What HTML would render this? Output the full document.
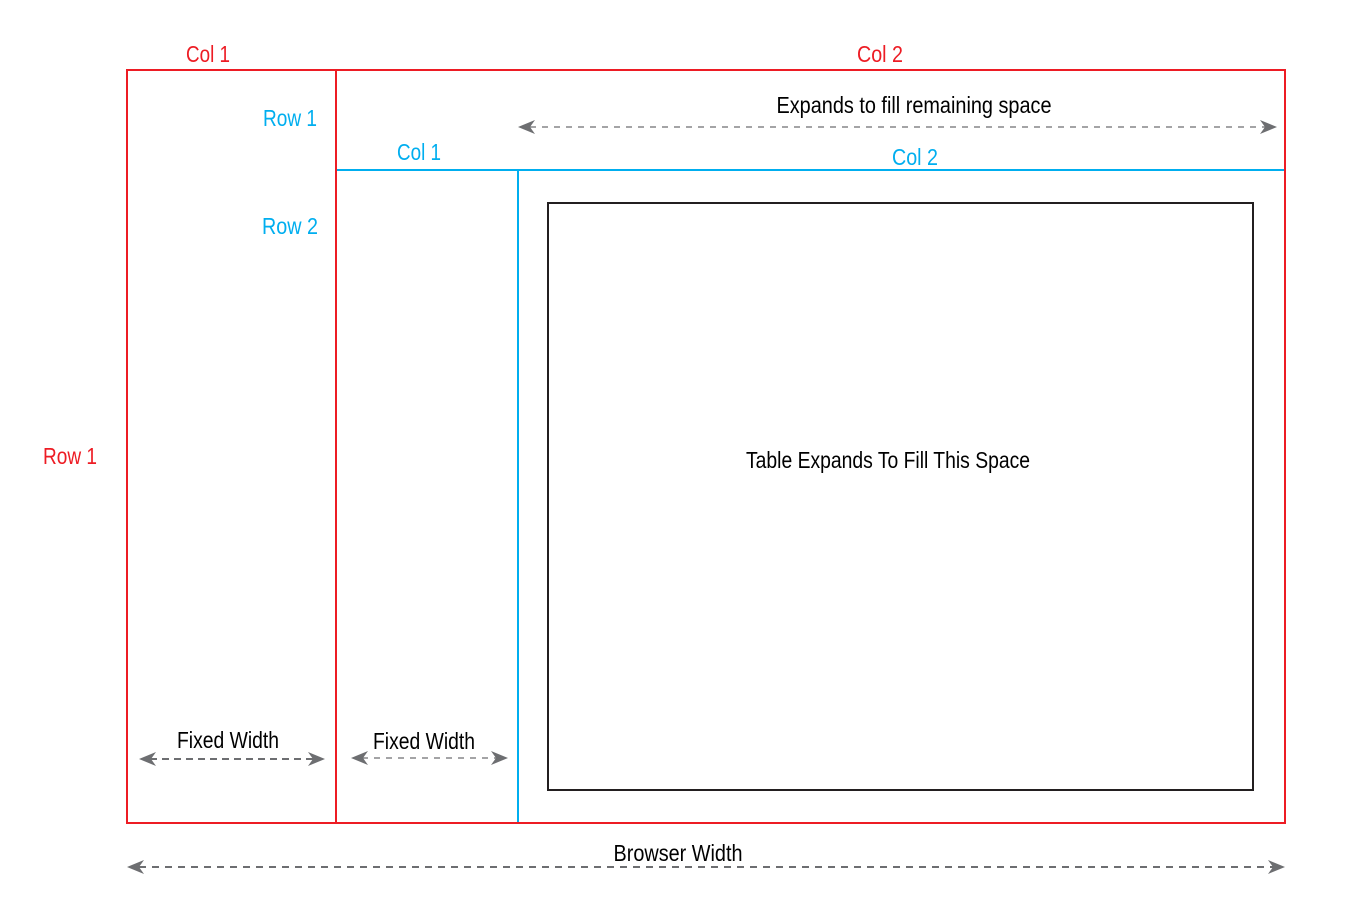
<!DOCTYPE html>
<html><head><meta charset="utf-8"><style>html,body{margin:0;padding:0;background:#fff}svg{display:block}text{font-family:"Liberation Sans Narrow","Liberation Sans",sans-serif;font-size:23px}</style></head>
<body>
<svg width="1370" height="910" viewBox="0 0 1370 910" xmlns="http://www.w3.org/2000/svg">
<defs>
<g id="ah"><path d="M0,0 L17,-7 L12,0 L17,7 Z" fill="#6d6e71"/></g>
</defs>
<rect x="127" y="70" width="1158" height="753" fill="none" stroke="#ed1c24" stroke-width="2"/>
<line x1="336" y1="70" x2="336" y2="823" stroke="#ed1c24" stroke-width="2"/>
<line x1="337" y1="170" x2="1284" y2="170" stroke="#00aeef" stroke-width="2"/>
<line x1="518" y1="171" x2="518" y2="822" stroke="#00aeef" stroke-width="2"/>
<rect x="548" y="203" width="705" height="587" fill="none" stroke="#231f20" stroke-width="2"/>

<g fill="#ed1c24" text-anchor="middle">
<text x="208" y="62" textLength="44" lengthAdjust="spacingAndGlyphs">Col 1</text>
<text x="880" y="62" textLength="46" lengthAdjust="spacingAndGlyphs">Col 2</text>
<text x="70" y="464" textLength="54" lengthAdjust="spacingAndGlyphs">Row 1</text>
</g>
<g fill="#00aeef" text-anchor="middle">
<text x="290" y="126" textLength="54" lengthAdjust="spacingAndGlyphs">Row 1</text>
<text x="290" y="234" textLength="56" lengthAdjust="spacingAndGlyphs">Row 2</text>
<text x="419" y="160" textLength="44" lengthAdjust="spacingAndGlyphs">Col 1</text>
<text x="915" y="165" textLength="46" lengthAdjust="spacingAndGlyphs">Col 2</text>
</g>
<g fill="#000" text-anchor="middle">
<text x="914" y="113" textLength="275" lengthAdjust="spacingAndGlyphs">Expands to fill remaining space</text>
<text x="888" y="468" textLength="284" lengthAdjust="spacingAndGlyphs">Table Expands To Fill This Space</text>
<text x="228" y="748" textLength="102" lengthAdjust="spacingAndGlyphs">Fixed Width</text>
<text x="424" y="749" textLength="102" lengthAdjust="spacingAndGlyphs">Fixed Width</text>
<text x="678" y="861" textLength="129" lengthAdjust="spacingAndGlyphs">Browser Width</text>
</g>

<g stroke="#6d6e71" fill="none">
<line x1="530" y1="127" x2="1266" y2="127" stroke-width="1.3" stroke-dasharray="6,6"/>
<line x1="150" y1="759" x2="314" y2="759" stroke-width="2" stroke-dasharray="7,5"/>
<line x1="362" y1="758" x2="497" y2="758" stroke-width="1.2" stroke-dasharray="6,6"/>
<line x1="139" y1="867" x2="1274" y2="867" stroke-width="2" stroke-dasharray="7,6"/>
</g>
<use href="#ah" transform="translate(518,127)"/>
<use href="#ah" transform="translate(1277,127) scale(-1,1)"/>
<use href="#ah" transform="translate(139,759)"/>
<use href="#ah" transform="translate(325,759) scale(-1,1)"/>
<use href="#ah" transform="translate(351,758)"/>
<use href="#ah" transform="translate(508,758) scale(-1,1)"/>
<use href="#ah" transform="translate(127,867)"/>
<use href="#ah" transform="translate(1285,867) scale(-1,1)"/>
</svg>
</body></html>
